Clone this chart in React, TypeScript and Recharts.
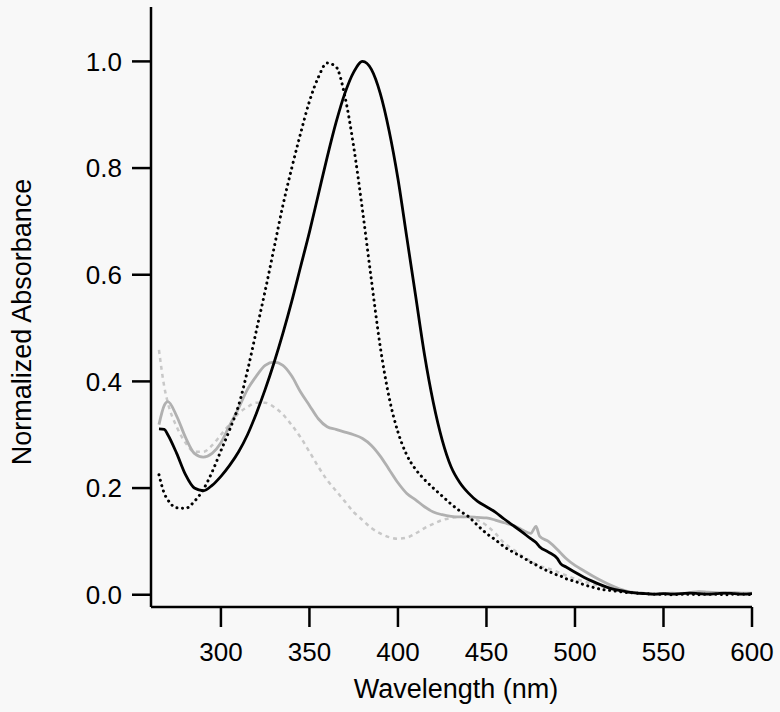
import React from 'react';
import { LineChart, Line, XAxis, YAxis } from 'recharts';

const wavelengths = [265, 268, 270, 275, 280, 285, 290, 295, 300, 305, 310, 315, 320, 325, 330, 335, 340, 345, 350, 355, 360, 365, 370, 375, 380, 385, 390, 395, 400, 405, 410, 415, 420, 425, 430, 435, 440, 445, 450, 455, 460, 465, 470, 475, 478, 480, 485, 490, 492, 495, 500, 505, 510, 515, 520, 525, 530, 535, 540, 545, 550, 555, 560, 565, 570, 575, 580, 585, 590, 595, 600];

const blackSolid = [0.311, 0.31, 0.3, 0.265, 0.225, 0.2, 0.195, 0.205, 0.222, 0.243, 0.268, 0.3, 0.34, 0.385, 0.435, 0.49, 0.55, 0.615, 0.68, 0.75, 0.82, 0.885, 0.94, 0.98, 1.0, 0.985, 0.94, 0.87, 0.78, 0.67, 0.56, 0.45, 0.36, 0.29, 0.24, 0.21, 0.19, 0.175, 0.165, 0.155, 0.142, 0.13, 0.118, 0.105, 0.098, 0.09, 0.08, 0.068, 0.058, 0.052, 0.042, 0.033, 0.025, 0.018, 0.012, 0.008, 0.005, 0.003, 0.002, 0.001, 0.002, 0.001, 0.002, 0.003, 0.002, 0.001, 0.002, 0.003, 0.002, 0.001, 0.002];

const blackDotted = [0.225, 0.19, 0.178, 0.163, 0.162, 0.175, 0.197, 0.23, 0.27, 0.31, 0.355, 0.42, 0.495, 0.57, 0.65, 0.73, 0.8, 0.865, 0.925, 0.97, 0.997, 0.99, 0.935, 0.84, 0.72, 0.59, 0.465, 0.37, 0.305, 0.262, 0.235, 0.216, 0.2, 0.185, 0.17, 0.157, 0.146, 0.13, 0.115, 0.103, 0.09, 0.08, 0.071, 0.061, 0.056, 0.052, 0.044, 0.037, 0.035, 0.03, 0.025, 0.019, 0.014, 0.01, 0.008, 0.006, 0.004, 0.003, 0.002, 0.001, 0.001, 0.0, 0.001, 0.001, 0.0, 0.001, 0.001, 0.0, 0.001, 0.001, 0.0];

const graySolid = [0.319, 0.355, 0.362, 0.335, 0.295, 0.265, 0.258, 0.265, 0.285, 0.318, 0.35, 0.385, 0.41, 0.43, 0.436, 0.43, 0.41, 0.38, 0.355, 0.33, 0.315, 0.31, 0.305, 0.3, 0.293, 0.28, 0.26, 0.235, 0.21, 0.19, 0.178, 0.165, 0.155, 0.15, 0.147, 0.146, 0.146, 0.145, 0.144, 0.14, 0.135, 0.13, 0.122, 0.115, 0.128, 0.11, 0.1, 0.085, 0.078, 0.068, 0.055, 0.045, 0.035, 0.026, 0.018, 0.011, 0.006, 0.004, 0.002, 0.001, 0.002, 0.003, 0.002, 0.004, 0.006, 0.005, 0.004, 0.003, 0.004, 0.003, 0.003];

const grayDotted = [0.459, 0.39, 0.36, 0.315, 0.285, 0.268, 0.268, 0.28, 0.3, 0.32, 0.34, 0.352, 0.36, 0.36, 0.352, 0.338, 0.318, 0.295, 0.268, 0.24, 0.215, 0.195, 0.175, 0.155, 0.14, 0.125, 0.115, 0.108, 0.105, 0.107, 0.115, 0.125, 0.133, 0.14, 0.144, 0.146, 0.145, 0.14, 0.13, 0.115, 0.097, 0.085, 0.073, 0.063, 0.057, 0.054, 0.049, 0.043, 0.04, 0.036, 0.03, 0.025, 0.02, 0.016, 0.012, 0.009, 0.006, 0.004, 0.003, 0.002, 0.001, 0.002, 0.003, 0.004, 0.005, 0.004, 0.003, 0.004, 0.003, 0.002, 0.003];

const xTicks = [300, 350, 400, 450, 500, 550, 600];
const yTicks = [0, 0.2, 0.4, 0.6, 0.8, 1.0];

const data = wavelengths.map((w, i) => ({
  w,
  blackSolid: blackSolid[i],
  blackDotted: blackDotted[i],
  graySolid: graySolid[i],
  grayDotted: grayDotted[i],
}));

const FONT = '"Liberation Sans", Arial, Helvetica, sans-serif';

export default function App() {
  return (
    <div style={{ position: 'absolute', left: 0, top: 0, width: 780, height: 712, background: '#f8f8f8' }}>
      <LineChart width={780} height={712} data={data} margin={{ top: 7, right: 28, bottom: 0, left: 0 }}>
        <XAxis
          dataKey="w"
          type="number"
          domain={[260.5, 600]}
          ticks={xTicks}
          allowDataOverflow
          height={105}
          tickSize={20}
          tickMargin={16}
          axisLine={{ stroke: '#000', strokeWidth: 2.5 }}
          tickLine={{ stroke: '#000', strokeWidth: 2.5 }}
          tick={{ fill: '#000', fontSize: 26, fontFamily: FONT }}
          label={{
            content: () => (
              <text x={456} y={698} textAnchor="middle" fill="#000" fontSize={27} fontFamily={FONT}>
                Wavelength (nm)
              </text>
            ),
          }}
        />
        <YAxis
          type="number"
          domain={[-0.023, 1.102]}
          ticks={yTicks}
          allowDataOverflow
          width={151}
          tickSize={19}
          tickMargin={10}
          tickFormatter={(v: number) => v.toFixed(1)}
          axisLine={{ stroke: '#000', strokeWidth: 2.5 }}
          tickLine={{ stroke: '#000', strokeWidth: 2.5 }}
          tick={{ fill: '#000', fontSize: 26, fontFamily: FONT }}
          label={{
            content: () => (
              <text x={31} y={322} transform="rotate(-90 31 322)" textAnchor="middle" fill="#000" fontSize={27} fontFamily={FONT}>
                Normalized Absorbance
              </text>
            ),
          }}
        />
        <Line dataKey="grayDotted" type="monotone" stroke="#c8c8c8" strokeWidth={2.5} strokeDasharray="4 4" dot={false} isAnimationActive={false} />
        <Line dataKey="graySolid" type="monotone" stroke="#b0b0b0" strokeWidth={2.8} dot={false} isAnimationActive={false} />
        <Line dataKey="blackDotted" type="monotone" stroke="#000" strokeWidth={3} strokeDasharray="0.1 5.5" strokeLinecap="round" dot={false} isAnimationActive={false} />
        <Line dataKey="blackSolid" type="monotone" stroke="#000" strokeWidth={2.8} dot={false} isAnimationActive={false} />
      </LineChart>
    </div>
  );
}
